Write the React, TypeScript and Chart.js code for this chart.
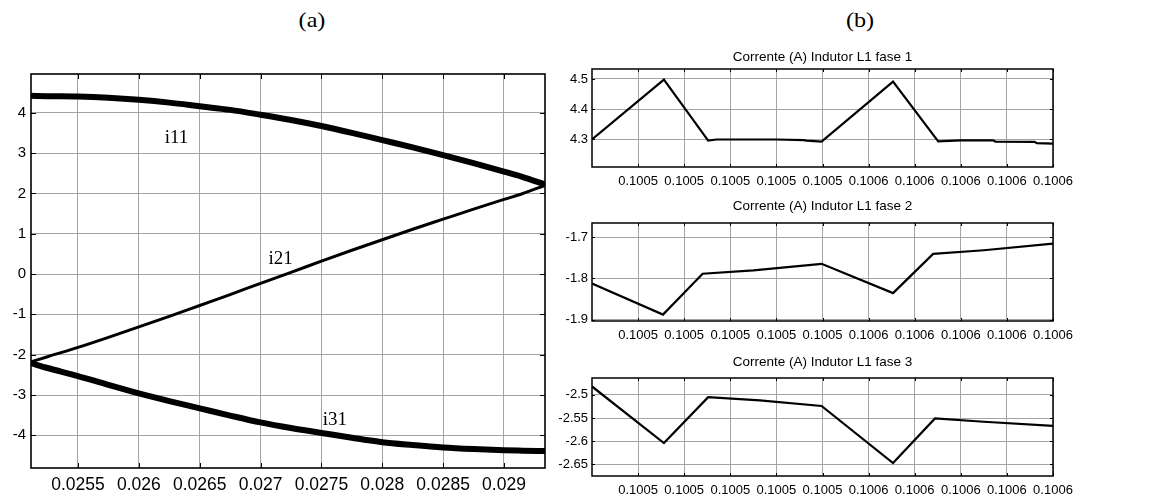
import React, { useEffect, useRef } from 'react';
import { Chart, registerables } from 'chart.js';

Chart.register(...registerables);

// ---------------- Panel (a) data ----------------
const timeA = [0.025114, 0.02525, 0.0255, 0.02575, 0.026, 0.02625, 0.0265, 0.02675, 0.027, 0.02725, 0.0275, 0.02775, 0.028, 0.02825, 0.0285, 0.02875, 0.029, 0.02915, 0.029337];
const i11 = [4.42, 4.41, 4.40, 4.37, 4.32, 4.25, 4.16, 4.07, 3.95, 3.82, 3.67, 3.50, 3.32, 3.14, 2.95, 2.75, 2.54, 2.41, 2.22];
const i21 = [-2.18, -2.05, -1.82, -1.57, -1.31, -1.05, -0.78, -0.51, -0.23, 0.04, 0.32, 0.59, 0.85, 1.11, 1.36, 1.61, 1.85, 1.99, 2.20];
const i31 = [-2.21, -2.33, -2.53, -2.75, -2.96, -3.15, -3.33, -3.51, -3.68, -3.82, -3.94, -4.06, -4.17, -4.24, -4.30, -4.34, -4.37, -4.38, -4.39];
const xTicksA = [0.0255, 0.026, 0.0265, 0.027, 0.0275, 0.028, 0.0285, 0.029];
const xTickLabelsA = ['0.0255', '0.026', '0.0265', '0.027', '0.0275', '0.028', '0.0285', '0.029'];
const yTicksA = [-4, -3, -2, -1, 0, 1, 2, 3, 4];
const yTickLabelsA = ['-4', '-3', '-2', '-1', '0', '1', '2', '3', '4'];
const seriesNamesA = ['i11', 'i21', 'i31'];
const labelTimesA = [0.02631, 0.027164, 0.027611];
const labelValuesA = [3.25, 0.245, -3.755];

// ---------------- Panel (b) data ----------------
const xTicksB = [0.10051, 0.10052, 0.10053, 0.10054, 0.10055, 0.10056, 0.10057, 0.10058, 0.10059, 0.1006];
const xTickLabelsB = ['0.1005', '0.1005', '0.1005', '0.1005', '0.1005', '0.1006', '0.1006', '0.1006', '0.1006', '0.1006'];

const titleB1 = 'Corrente (A) Indutor L1 fase 1';
const timeB1 = [0.1005, 0.1005156, 0.1005252, 0.100527, 0.10054, 0.100546, 0.1005465, 0.1005498, 0.1005653, 0.1005751, 0.10058, 0.100587, 0.1005875, 0.100596, 0.1005965, 0.1006];
const fase1 = [4.300, 4.498, 4.296, 4.300, 4.300, 4.298, 4.296, 4.293, 4.491, 4.294, 4.297, 4.297, 4.293, 4.292, 4.288, 4.286];
const yTicksB1 = [4.3, 4.4, 4.5];
const yTickLabelsB1 = ['4.3', '4.4', '4.5'];

const titleB2 = 'Corrente (A) Indutor L1 fase 2';
const timeB2 = [0.1005, 0.1005154, 0.100524, 0.100535, 0.1005498, 0.1005653, 0.100574, 0.100585, 0.1006];
const fase2 = [-1.813, -1.888, -1.789, -1.781, -1.765, -1.836, -1.741, -1.732, -1.716];
const yTicksB2 = [-1.9, -1.8, -1.7];
const yTickLabelsB2 = ['-1.9', '-1.8', '-1.7'];

const titleB3 = 'Corrente (A) Indutor L1 fase 3';
const timeB3 = [0.1005, 0.1005156, 0.1005252, 0.1005364, 0.1005498, 0.1005653, 0.1005744, 0.100585, 0.1006];
const fase3 = [-2.482, -2.604, -2.505, -2.512, -2.524, -2.647, -2.551, -2.558, -2.567];
const yTicksB3 = [-2.65, -2.6, -2.55, -2.5];
const yTickLabelsB3 = ['-2.65', '-2.6', '-2.55', '-2.5'];

const SANS = '"Liberation Sans", Arial, sans-serif';
const SERIF = '"Liberation Serif", "Times New Roman", serif';

const framePlugin = {
  id: 'frame',
  afterDraw(chart: any, _args: any, opts: any) {
    const { ctx, chartArea: a, scales } = chart;
    const xs = scales.x;
    const ys = scales.y;
    ctx.save();
    ctx.strokeStyle = '#000';
    ctx.lineWidth = 1;
    const tl = opts.tickLen || 4;
    ctx.beginPath();
    xs.ticks.forEach((t: any) => {
      const px = Math.round(xs.getPixelForValue(t.value)) + 0.5;
      ctx.moveTo(px, a.bottom);
      ctx.lineTo(px, a.bottom - tl);
      ctx.moveTo(px, a.top);
      ctx.lineTo(px, a.top + tl);
    });
    ys.ticks.forEach((t: any) => {
      const py = Math.round(ys.getPixelForValue(t.value)) + 0.5;
      ctx.moveTo(a.left, py);
      ctx.lineTo(a.left + tl, py);
      ctx.moveTo(a.right, py);
      ctx.lineTo(a.right - tl, py);
    });
    ctx.stroke();
    ctx.lineWidth = opts.borderWidth || 1.5;
    ctx.strokeRect(a.left, a.top, a.right - a.left, a.bottom - a.top);
    ctx.fillStyle = '#000';
    if (opts.title) {
      ctx.font = `13.5px ${SANS}`;
      ctx.textAlign = 'center';
      ctx.textBaseline = 'middle';
      ctx.fillText(opts.title, (a.left + a.right) / 2, opts.titleY);
    }
    if (opts.labels) {
      ctx.font = `19px ${SERIF}`;
      ctx.textAlign = 'center';
      ctx.textBaseline = 'alphabetic';
      opts.labels.names.forEach((n: string, i: number) => {
        ctx.fillText(n, xs.getPixelForValue(opts.labels.xs[i]), ys.getPixelForValue(opts.labels.ys[i]));
      });
    }
    ctx.restore();
  },
};

function pts(xs: number[], ys: number[]) {
  return xs.map((x, i) => ({ x, y: ys[i] }));
}

function makeScale(opts: {
  min: number; max: number; ticks: number[]; labels: string[]; fontSize: number; padding: number;
  fitWidth?: number; fitHeight?: number;
}) {
  return {
    type: 'linear',
    min: opts.min,
    max: opts.max,
    afterBuildTicks: (s: any) => {
      s.ticks = opts.ticks.map((v) => ({ value: v }));
    },
    afterFit: (s: any) => {
      if (opts.fitWidth !== undefined) s.width = opts.fitWidth;
      if (opts.fitHeight !== undefined) s.height = opts.fitHeight;
    },
    grid: { color: '#a4a4a4', lineWidth: 1, drawTicks: false },
    border: { display: false },
    ticks: {
      autoSkip: false,
      maxRotation: 0,
      minRotation: 0,
      padding: opts.padding,
      color: '#000',
      font: { family: SANS, size: opts.fontSize },
      callback: (_v: any, i: number) => opts.labels[i],
    },
  };
}

function configA() {
  return {
    type: 'line',
    data: {
      datasets: [
        { data: pts(timeA, i11), borderColor: '#000', borderWidth: 6, pointRadius: 0, cubicInterpolationMode: 'monotone', fill: false },
        { data: pts(timeA, i21), borderColor: '#000', borderWidth: 3, pointRadius: 0, cubicInterpolationMode: 'monotone', fill: false },
        { data: pts(timeA, i31), borderColor: '#000', borderWidth: 6, pointRadius: 0, cubicInterpolationMode: 'monotone', fill: false },
      ],
    },
    options: {
      animation: false,
      responsive: false,
      devicePixelRatio: 1,
      layout: { padding: { top: 9, right: 30, left: 0, bottom: 0 } },
      plugins: {
        legend: { display: false },
        tooltip: { enabled: false },
        frame: { tickLen: 5, borderWidth: 1.6, labels: { names: seriesNamesA, xs: labelTimesA, ys: labelValuesA } },
      },
      scales: {
        x: makeScale({ min: 0.025114, max: 0.029337, ticks: xTicksA, labels: xTickLabelsA, fontSize: 17.5, padding: 7, fitHeight: 31 }),
        y: makeScale({ min: -4.81, max: 4.96, ticks: yTicksA, labels: yTickLabelsA, fontSize: 15, padding: 5, fitWidth: 31 }),
      },
    },
    plugins: [framePlugin],
  };
}

function configB(title: string, titleY: number, times: number[], vals: number[], ymin: number, ymax: number,
  yTicks: number[], yLabels: string[], topPad: number, axisH: number) {
  return {
    type: 'line',
    data: {
      datasets: [
        { data: pts(times, vals), borderColor: '#000', borderWidth: 2.2, pointRadius: 0, tension: 0, fill: false },
      ],
    },
    options: {
      animation: false,
      responsive: false,
      devicePixelRatio: 1,
      layout: { padding: { top: topPad, right: 110, left: 0, bottom: 0 } },
      plugins: {
        legend: { display: false },
        tooltip: { enabled: false },
        frame: { tickLen: 3, borderWidth: 1.5, title, titleY },
      },
      scales: {
        x: makeScale({ min: 0.1005, max: 0.1006, ticks: xTicksB, labels: xTickLabelsB, fontSize: 13, padding: 7, fitHeight: axisH }),
        y: makeScale({ min: ymin, max: ymax, ticks: yTicks, labels: yLabels, fontSize: 13, padding: 4, fitWidth: 47 }),
      },
    },
    plugins: [framePlugin],
  };
}

function ChartCanvas(props: { left: number; top: number; width: number; height: number; make: () => any }) {
  const ref = useRef<HTMLCanvasElement | null>(null);
  useEffect(() => {
    const c = new Chart(ref.current as HTMLCanvasElement, props.make());
    return () => c.destroy();
  }, []);
  return (
    <canvas
      ref={ref}
      width={props.width}
      height={props.height}
      style={{ position: 'absolute', left: props.left, top: props.top, width: props.width, height: props.height }}
    />
  );
}

const capStyle: React.CSSProperties = {
  position: 'absolute',
  top: 20,
  transform: 'translate(-50%, -50%) scaleX(1.15)',
  font: `21px ${SERIF}`,
  color: '#000',
  whiteSpace: 'nowrap',
};

export default function App() {
  return (
    <div style={{ position: 'absolute', left: 0, top: 0, width: 1163, height: 499, background: '#fff', overflow: 'hidden' }}>
      <div style={{ ...capStyle, left: 312 }}>(a)</div>
      <div style={{ ...capStyle, left: 860 }}>(b)</div>
      <ChartCanvas left={0} top={60} width={575} height={439} make={configA} />
      <ChartCanvas left={545} top={45} width={618} height={145}
        make={() => configB(titleB1, 12, timeB1, fase1, 4.209, 4.533, yTicksB1, yTickLabelsB1, 24, 23)} />
      <ChartCanvas left={545} top={195} width={618} height={150}
        make={() => configB(titleB2, 11, timeB2, fase2, -1.9036, -1.666, yTicksB2, yTickLabelsB2, 28, 24)} />
      <ChartCanvas left={545} top={350} width={618} height={149}
        make={() => configB(titleB3, 12.5, timeB3, fase3, -2.675, -2.4637, yTicksB3, yTickLabelsB3, 28, 23)} />
    </div>
  );
}
